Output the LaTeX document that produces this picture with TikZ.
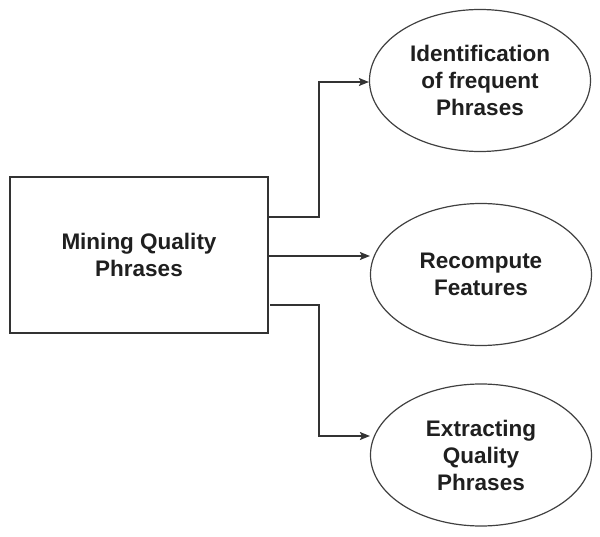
\documentclass[tikz,border=0pt]{standalone}
\usepackage{fontspec}
\setmainfont{Liberation Sans}
\usetikzlibrary{shapes.geometric,arrows.meta}
\begin{document}
\begin{tikzpicture}[x=1pt,y=-1pt,
  lbl/.style={font=\fontsize{22.5}{27}\selectfont\bfseries, text=black!88, align=center},
  box/.style={draw=black!80, line width=1.3pt, minimum width=258pt, minimum height=156pt, inner sep=0pt, lbl},
  ell/.style={draw=black!75, line width=1.2pt, ellipse, minimum width=221pt, minimum height=142pt, inner sep=0pt, lbl},
  conn/.style={draw=black!80, line width=1.3pt, -{Stealth[length=10pt,width=8pt,inset=2pt]}}]
\useasboundingbox (0,0) rectangle (600,537);
\node[box] (r) at (139,255) {Mining Quality\\Phrases};
\node[ell] (e1) at (480,80.5) {Identification\\of frequent\\Phrases};
\node[ell] (e2) at (481,274.5) {Recompute\\Features};
\node[ell] (e3) at (481,455) {Extracting\\Quality\\Phrases};
\coordinate (a1) at (268,217);
\coordinate (a2) at (268,256);
\coordinate (a3) at (270,305);
\coordinate (k1) at (319,82);
\coordinate (k3) at (319,436);
\draw[conn] (a1 -| r.east) -| (k1) -- (e1.west |- k1);
\draw[conn] (a2 -| r.east) -- (e2.west |- a2);
\draw[conn] (a3) -| (k3) -- (e3.west |- k3);
\end{tikzpicture}
\end{document}
